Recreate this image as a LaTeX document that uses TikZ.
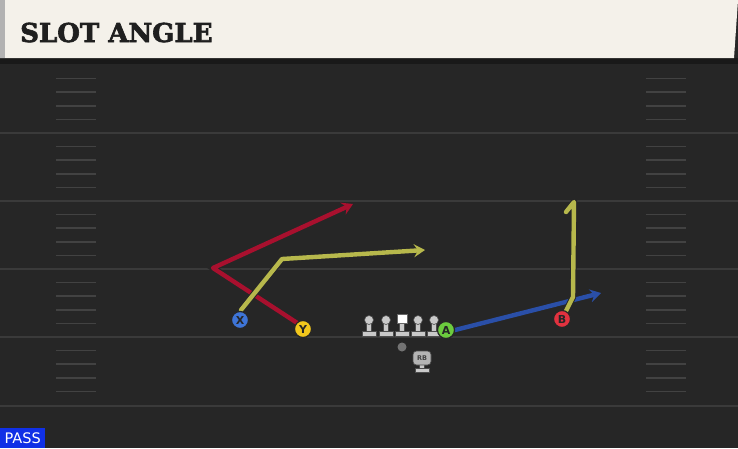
\documentclass[tikz,border=0pt]{standalone}
\usepackage{fontspec}
\setmainfont{DejaVu Serif}
\newfontfamily\passfont{DejaVu Sans}
\newfontfamily\titlefont[FakeBold=2.5]{DejaVu Serif Bold}
\usetikzlibrary{arrows.meta}
\definecolor{hdr}{HTML}{F4F1EA}
\definecolor{field}{HTML}{262626}
\definecolor{yline}{HTML}{3A3A3A}
\definecolor{hash}{HTML}{424242}
\definecolor{rred}{HTML}{A8102E}
\definecolor{ryel}{HTML}{B7B84C}
\definecolor{rblue}{HTML}{2A4FA8}
\definecolor{pblue}{HTML}{3E74D6}
\definecolor{pyel}{HTML}{F2C71C}
\definecolor{pgreen}{HTML}{6CCB3E}
\definecolor{pred}{HTML}{E2323F}
\definecolor{lgray}{HTML}{C9C9C9}
\definecolor{rbgray}{HTML}{B4B4B4}
\definecolor{passblue}{HTML}{1030E6}
\tikzset{
  route/.style={line width=4.4pt, line join=round, line cap=round, draw=#1,
    preaction={draw=black!85, line width=6.4pt}},
  tip/.style={-{Stealth[length=11pt,width=13pt,inset=4pt]}},
  player/.style={circle, draw=black!85, line width=1.2pt, fill=#1, minimum size=17pt, inner sep=0pt,
    font=\passfont\bfseries\fontsize{11}{11}\selectfont, text=black!85},
  yardline/.style={draw=yline, line width=2pt},
  hashmark/.style={draw=hash, line width=1.5pt},
  figpart/.style={fill=lgray, draw=black!70, line width=0.6pt}
}
\begin{document}
\begin{tikzpicture}[x=1pt,y=-1pt]
\useasboundingbox (0,0) rectangle (738,448);
% field
\fill[field] (0,0) rectangle (738,448);
\fill[black!90] (0,58) rectangle (738,64);
\fill[black!85] (0,408) rectangle (738,448);
% header
\fill[hdr] (0,0) -- (738,0) -- (734,58) -- (0,58) -- cycle;
\fill[black!30] (0,0) rectangle (5,58);
\node[anchor=base west, inner sep=0pt, font=\titlefont\fontsize{26}{26}\selectfont, text=black!88] (title) at (20,42) {SLOT ANGLE};
% yard lines
\foreach \y in {133,201,269,337,406} {\draw[yardline] (0,\y) -- (738,\y);}
% hash marks
\foreach \y in {65,133,201,269,337} {
  \foreach \k in {1,2,3,4} {
    \draw[hashmark] (56,\y+13.6*\k) -- (96,\y+13.6*\k);
    \draw[hashmark] (646,\y+13.6*\k) -- (686,\y+13.6*\k);
  }
}
% players
\node[player=pblue] (X) at (240,320) {X};
\node[player=pyel] (Y) at (303,329) {Y};
\node[player=pgreen] (A) at (446,330) {A};
\node[player=pred] (B) at (562,319) {B};
% route points
\coordinate (r1) at (213,268);
\coordinate (r2) at (353,204);
\coordinate (y1) at (241,310);
\coordinate (y2) at (282,259);
\coordinate (y3) at (425,250);
\coordinate (b0) at (566,311);
\coordinate (b1) at (573,297);
\coordinate (b2) at (574,202);
\coordinate (b3) at (566,212);
\coordinate (a1) at (601,293);
% routes
\draw[route=rred, tip] (Y.north west) -- (r1) -- (r2);
\draw[route=ryel, tip] (y1) -- (y2) -- (y3);
\draw[route=rblue, tip] (A.east) -- (a1);
\draw[route=ryel] (b0) -- (b1) -- (b2) -- (b3);
% redraw players on top
\node[player=pblue] at (X) {X};
\node[player=pyel] at (Y) {Y};
\node[player=pred] at (B) {B};
% linemen
\foreach \x [count=\i] in {369,386,402,418,434} {
  \fill[figpart] (\x-2.5,322) rectangle (\x+2.5,332);
  \fill[figpart] (\x-7,331) rectangle (\x+7,336);
  \ifnum\i=3
    \fill[white, draw=black!60, line width=0.6pt] (\x-5,314) rectangle (\x+5,323);
  \else
    \fill[figpart] (\x,320) circle (4.5);
  \fi
}
\node[player=pgreen] at (A) {A};
% QB
\fill[black!55] (402,347) circle (4.5);
% RB
\fill[figpart] (419.5,364) rectangle (424.5,369);
\fill[figpart] (415,368) rectangle (429,372);
\fill[rbgray, draw=black!70, line width=0.6pt, rounded corners=3.5pt] (413,351) rectangle (431,365);
\node[font=\passfont\bfseries\fontsize{6.5}{6.5}\selectfont, text=black!75, inner sep=0pt] (rb) at (422,358) {RB};
% PASS label
\node[fill=passblue, anchor=south west, inner xsep=3pt, inner ysep=2pt, minimum height=20pt, minimum width=45pt,
  font=\passfont\fontsize{14.5}{14.5}\selectfont, text=white] (pass) at (0,448) {PASS};
\end{tikzpicture}
\end{document}
